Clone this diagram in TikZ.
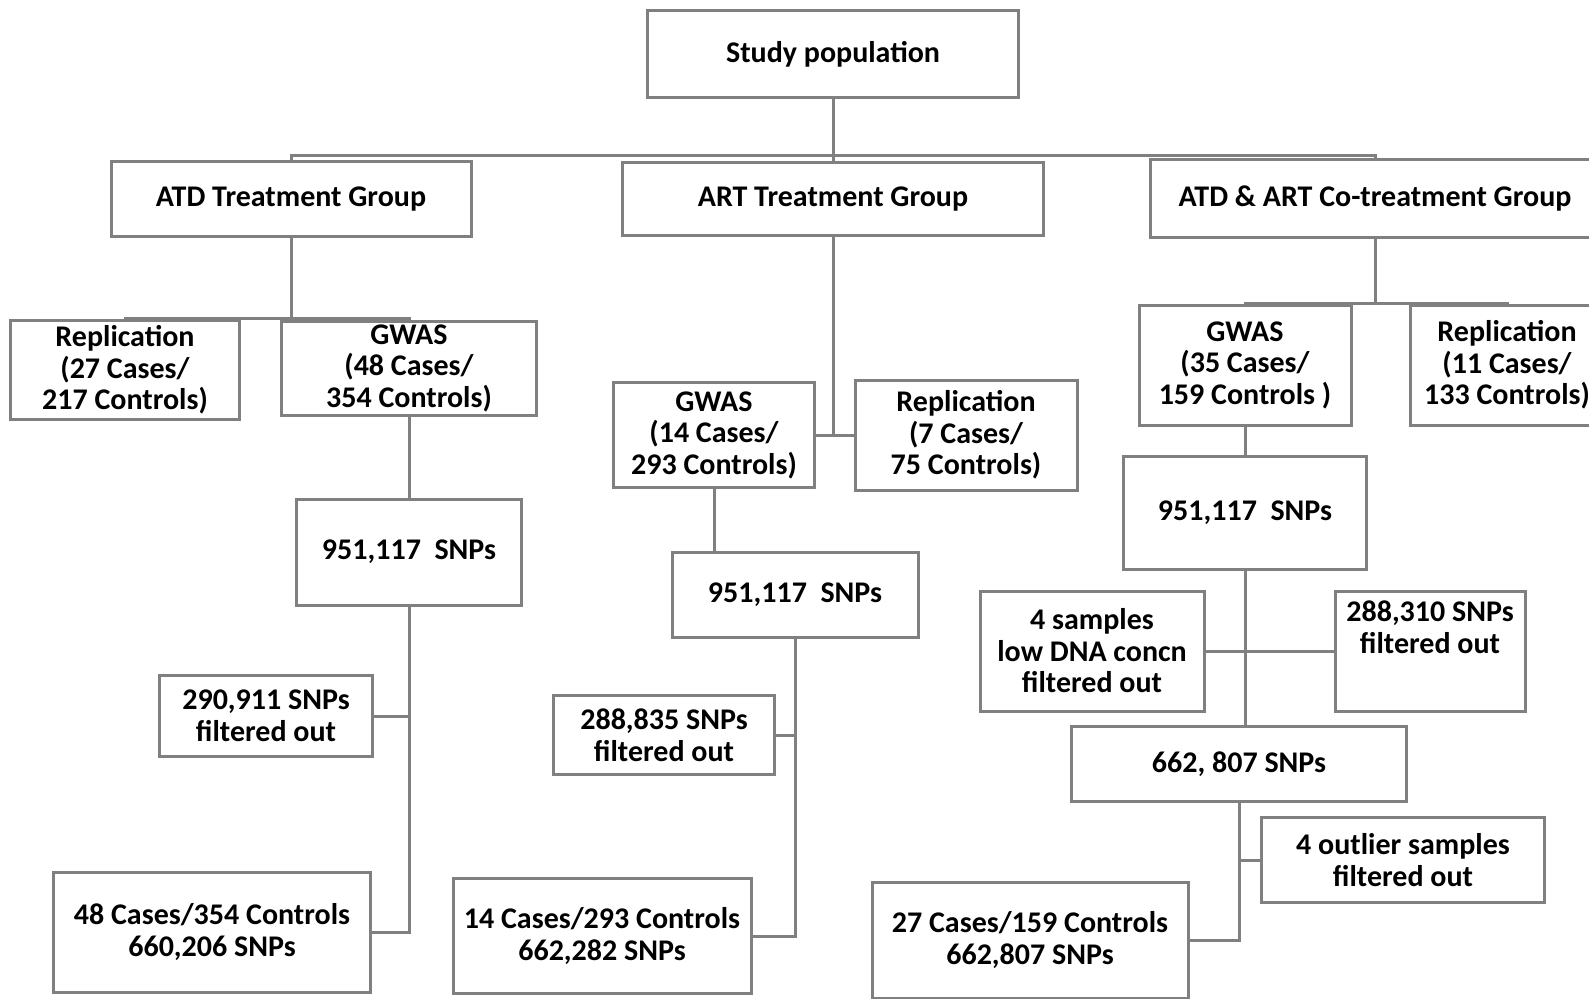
\documentclass[tikz,border=0pt]{standalone}
\usepackage{fontspec}
\setmainfont{Carlito}
\usetikzlibrary{positioning}
\definecolor{rule}{RGB}{128,128,128}
\tikzset{
  box/.style={draw=rule,line width=3pt,fill=white,align=center,inner sep=0pt,
    font=\bfseries\fontsize{30}{31.5}\selectfont},
  link/.style={draw=rule,line width=3pt},
}

\begin{document}
\begin{tikzpicture}[x=1pt,y=-1pt]
  \useasboundingbox[fill=white] (0,0) rectangle (1589,998);
  % top level
  \node[box,minimum width=371pt,minimum height=86pt] (study) at (833,54) {Study population};
  \node[box,minimum width=360pt,minimum height=75pt] (atd) at (291,199) {ATD Treatment Group};
  \node[box,minimum width=421pt,minimum height=73pt] (art) at (833,199) {ART Treatment Group};
  \node[box,minimum width=450pt,minimum height=78pt] (co) at (1375,198) {ATD \& ART Co-treatment Group};
  \coordinate (busT) at (833,155);
  \draw[link] (study) -- (busT) -- (art);
  \draw[link] (atd.north) |- (busT) -| (co.north);

  % ATD column
  \node[box,minimum width=229pt,minimum height=99pt] (repA) at (125,370) {Replication\\(27 Cases/\\217 Controls)};
  \node[box,minimum width=255pt,minimum height=94pt] (gwasA) at (409,368) {GWAS\\(48 Cases/\\354 Controls)};
  \node[box,minimum width=225pt,minimum height=106pt] (snpA) at (409,552) {951,117 \ SNPs};
  \node[box,minimum width=213pt,minimum height=81pt] (fA) at (266,716) {290,911 SNPs\\filtered out};
  \node[box,minimum width=317pt,minimum height=120pt] (resA) at (212,932) {48 Cases/354 Controls\\660,206 SNPs};
  \coordinate (busA) at (291,318);
  \draw[link] (atd) -- (busA);
  \draw[link] (repA.north) |- (busA) -| (gwasA.north);
  \draw[link] (gwasA) -- (snpA);
  \draw[link] (snpA.south) -- (snpA.south |- resA.east) -- (resA.east);
  \draw[link] (fA.east) -- (fA.east -| snpA.south);

  % ART column
  \node[box,minimum width=201pt,minimum height=105pt] (gwasB) at (714,435) {GWAS\\(14 Cases/\\293 Controls)};
  \node[box,minimum width=222pt,minimum height=110pt] (repB) at (966,435) {Replication\\(7 Cases/\\75 Controls)};
  \node[box,minimum width=246pt,minimum height=85pt] (snpB) at (795,595) {951,117 \ SNPs};
  \node[box,minimum width=221pt,minimum height=79pt] (fB) at (664,735) {288,835 SNPs\\filtered out};
  \node[box,minimum width=298pt,minimum height=115pt] (resB) at (602,936) {14 Cases/293 Controls\\662,282 SNPs};
  \coordinate (busB) at (833,435);
  \draw[link] (art) -- (busB);
  \draw[link] (gwasB) -- (repB);
  \draw[link] (gwasB.south) -- (gwasB.south |- snpB.north);
  \draw[link] (snpB.south) -- (snpB.south |- resB.east) -- (resB.east);
  \draw[link] (fB.east) -- (fB.east -| snpB.south);

  % co-treatment column
  \node[box,minimum width=212pt,minimum height=120pt] (gwasC) at (1245,365) {GWAS\\(35 Cases/\\159 Controls )};
  \node[box,minimum width=193pt,minimum height=120pt] (repC) at (1507,365) {Replication\\(11 Cases/\\133 Controls)};
  \node[box,minimum width=243pt,minimum height=113pt] (snpC) at (1245,513) {951,117 \ SNPs};
  \node[box,minimum width=224pt,minimum height=120pt] (s4) at (1092,651) {4 samples\\low DNA concn\\filtered out};
  \node[box,minimum width=190pt,minimum height=120pt] (fC) at (1430,651) {288,310 SNPs\\filtered out\\[16pt]\mbox{}};
  \node[box,minimum width=335pt,minimum height=75pt] (midC) at (1239,764) {662, 807 SNPs};
  \node[box,minimum width=283pt,minimum height=85pt] (oC) at (1403,860) {4 outlier samples\\filtered out};
  \node[box,minimum width=316pt,minimum height=116pt] (resC) at (1030,940) {27 Cases/159 Controls\\662,807 SNPs};
  \coordinate (busC) at (1375,303);
  \draw[link] (co) -- (busC);
  \draw[link] (gwasC.north) |- (busC) -| (repC.north);
  \draw[link] (gwasC) -- (snpC);
  \draw[link] (snpC.south) -- (snpC.south |- midC.north);
  \draw[link] (s4) -- (fC);
  \draw[link] (midC.south) -- (midC.south |- resC.east) -- (resC.east);
  \draw[link] (oC.west) -- (oC.west -| midC.south);
\end{tikzpicture}
\end{document}
